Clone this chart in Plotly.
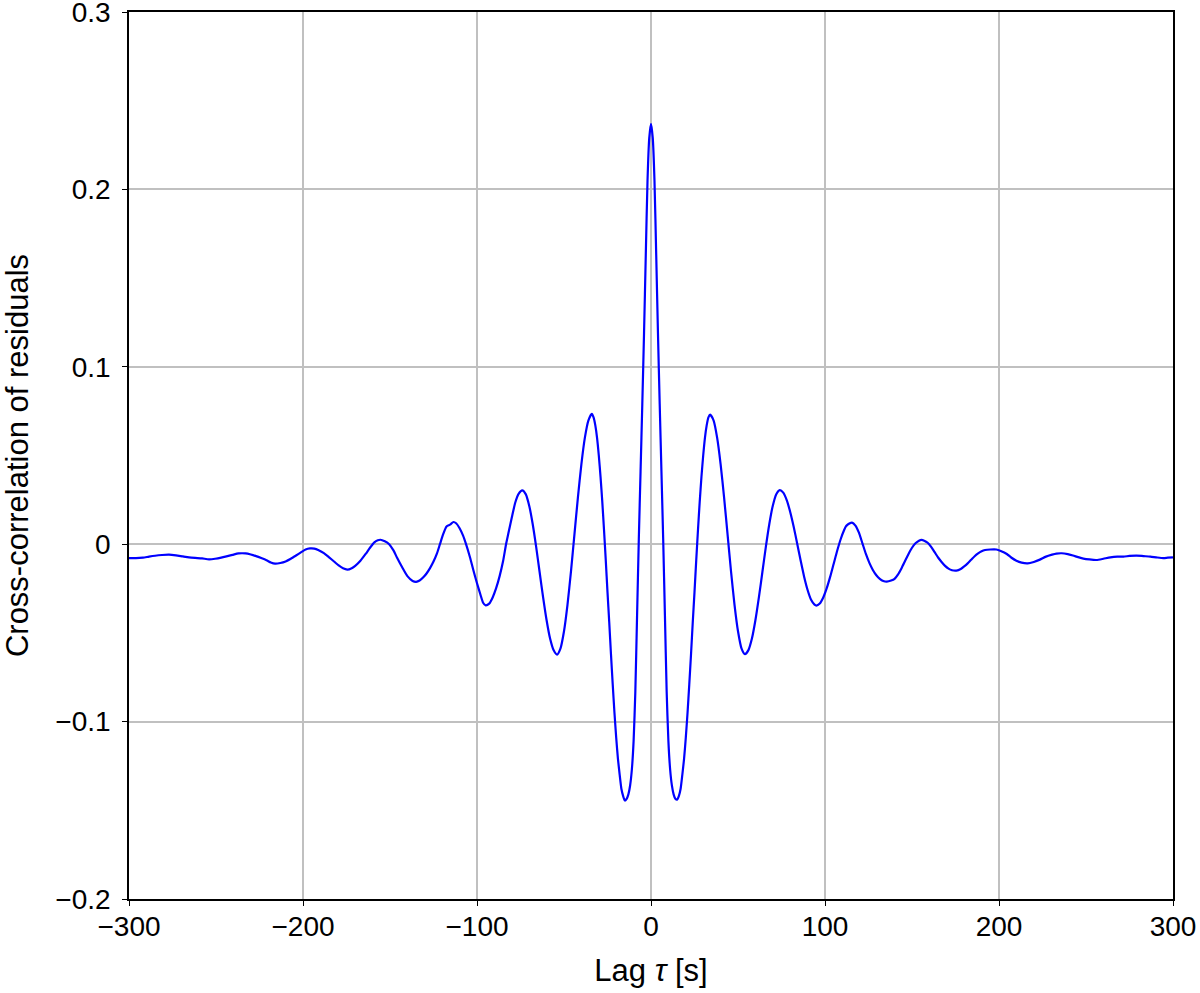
import plotly.graph_objects as go

# Lag values (s) and cross-correlation of residuals
lags_neg = [-300, -296, -292, -288.5, -285, -281, -277, -273, -269, -265.5, -262, -258, -254, -250.5,
            -247, -244, -240.5, -237, -233, -230, -227, -224, -221, -218.5, -216, -213, -210, -207,
            -204, -201, -198.5, -196, -193.5, -191, -188, -185, -182, -179.5, -177, -174.5, -172, -170,
            -167, -164, -161.5, -159, -157, -155.5, -153, -150.5, -148, -146, -143, -140, -137, -135,
            -133, -131, -129, -127, -125, -123, -121.3, -119.5, -117.5, -115.5, -113.5, -112, -110, -108,
            -106.3, -104, -102, -100, -98, -96.5, -95, -93, -91, -89, -87, -85, -83.3, -82, -80, -78,
            -76, -74, -72, -70, -68, -66, -64, -62, -60, -58, -56, -54, -52, -50, -48, -46, -44, -42,
            -40, -38, -36, -34, -33, -32, -31, -30, -29, -28, -27, -26, -25, -24, -23, -22, -21, -20,
            -19, -18, -17, -16, -15, -14, -13, -12, -11, -10, -9, -8, -7, -6, -5, -4, -3, -2, -1]
xcorr_neg = [-0.0078, -0.0079, -0.0076, -0.0070, -0.0065, -0.0061, -0.0059, -0.0063, -0.0069, -0.0074,
             -0.0077, -0.0080, -0.0085, -0.0082, -0.0076, -0.0069, -0.0060, -0.0052, -0.0052, -0.0058,
             -0.0067, -0.0078, -0.0090, -0.0103, -0.0110, -0.0106, -0.0097, -0.0082, -0.0064, -0.0045,
             -0.0030, -0.0024, -0.0025, -0.0034, -0.0050, -0.0074, -0.0099, -0.0120, -0.0136, -0.0143,
             -0.0135, -0.0122, -0.0093, -0.0055, -0.0020, 0.0010, 0.0022, 0.0025, 0.0016, 0.0000,
             -0.0035, -0.0075, -0.0130, -0.0180, -0.0207, -0.0212, -0.0205, -0.0188, -0.0165, -0.0135,
             -0.0098, -0.0052, 0.0000, 0.0055, 0.0100, 0.0110, 0.0125, 0.0118, 0.0090, 0.0048,
             0.0000, -0.0075, -0.0150, -0.0220, -0.0285, -0.0330, -0.0345, -0.0335, -0.0300, -0.0248,
             -0.0180, -0.0095, 0.0000, 0.0060, 0.0150, 0.0235, 0.0285, 0.0303, 0.0282, 0.0217,
             0.0114, -0.0015, -0.0158, -0.0300, -0.0429, -0.0532, -0.0597, -0.0622, -0.0587, -0.0491,
             -0.0342, -0.0154, 0.0055, 0.0264, 0.0452, 0.0601, 0.0697, 0.0735, 0.0715, 0.067,
             0.060, 0.050, 0.038, 0.024, 0.008, -0.009, -0.027, -0.044, -0.062, -0.079,
             -0.095, -0.109, -0.121, -0.130, -0.138, -0.142, -0.1445, -0.1435, -0.141, -0.136,
             -0.127, -0.111, -0.083, -0.040, 0.003, 0.041, 0.079, 0.119, 0.163, 0.205, 0.229]

lags_pos = [0, 1, 2, 3, 4, 5, 6, 7, 8, 9, 10, 11, 12, 13, 14, 15, 16, 17, 18, 19, 20, 21, 22, 23, 24,
            25, 26, 27, 28, 29, 30, 31, 32, 33, 34, 36, 38, 40, 42, 44, 46, 48, 50, 52, 54, 56, 58, 60,
            62, 64, 66, 68, 70, 72, 74, 76, 78, 80, 82, 84, 86, 88, 90, 92, 94, 95, 97, 99, 101, 103,
            105, 107, 109, 111, 112, 113, 114, 115.5, 117.5, 119.5, 121.5, 123.5, 125.5, 127.5, 129.5,
            131.5, 133.5, 135.5, 138, 140, 142, 144, 146, 148, 150, 152, 154, 155.5, 157, 159, 161, 163,
            165, 167, 169, 171, 173, 175.5, 178, 180, 182, 184, 186, 188, 190, 192, 195, 198.5, 201,
            204.5, 207, 210, 213, 216.5, 220, 223.5, 227, 230.5, 233, 236, 239.5, 242.5, 245.5, 248.5,
            252, 256, 260, 264, 268, 271.5, 275, 279, 283, 287, 291, 294.5, 297, 300]
xcorr_pos = [0.237, 0.229, 0.205, 0.163, 0.119, 0.079, 0.041, 0.003, -0.040, -0.083,
             -0.111, -0.127, -0.136, -0.141, -0.1435, -0.144, -0.142, -0.138, -0.130, -0.121,
             -0.109, -0.095, -0.079, -0.062, -0.044, -0.027, -0.009, 0.008, 0.024, 0.038,
             0.050, 0.060, 0.067, 0.0715, 0.073, 0.0697, 0.0601, 0.0452, 0.0264, 0.0055,
             -0.0154, -0.0342, -0.0491, -0.0587, -0.0620, -0.0597, -0.0532, -0.0429, -0.0300, -0.0158,
             -0.0015, 0.0114, 0.0217, 0.0282, 0.0305, 0.0291, 0.0249, 0.0182, 0.0099, 0.0004,
             -0.0092, -0.0183, -0.0258, -0.0313, -0.0341, -0.0346, -0.0334, -0.0300, -0.0248, -0.0183,
             -0.0110, -0.0037, 0.0028, 0.0080, 0.0100, 0.0110, 0.0117, 0.0122, 0.0105, 0.0065,
             0.0005, -0.0055, -0.0105, -0.0145, -0.0175, -0.0195, -0.0207, -0.0211, -0.0205, -0.0195,
             -0.0170, -0.0135, -0.0095, -0.0055, -0.0020, 0.0005, 0.0020, 0.0024, 0.0020, 0.0008,
             -0.0015, -0.0045, -0.0075, -0.0100, -0.0122, -0.0138, -0.0147, -0.0149, -0.0140, -0.0125,
             -0.0108, -0.0088, -0.0068, -0.0052, -0.0040, -0.0033, -0.0030, -0.0030, -0.0038, -0.0055,
             -0.0075, -0.0093, -0.0104, -0.0108, -0.0100, -0.0087, -0.0070, -0.0059, -0.0053, -0.0051,
             -0.0056, -0.0064, -0.0073, -0.0081, -0.0086, -0.0089, -0.0082, -0.0074, -0.0070, -0.0070,
             -0.0066, -0.0064, -0.0067, -0.0070, -0.0075, -0.0078, -0.0076, -0.0074]

x_tickvals = [-300, -200, -100, 0, 100, 200, 300]
x_ticktext = ["\u2212300", "\u2212200", "\u2212100", "0", "100", "200", "300"]
y_tickvals = [-0.2, -0.1, 0, 0.1, 0.2, 0.3]
y_ticktext = ["\u22120.2", "\u22120.1", "0", "0.1", "0.2", "0.3"]

x_title = "Lag <i>\u03c4</i> [s]"
y_title = "Cross-correlation of residuals"

FONT = "Liberation Sans"
FS = 28
FS_TITLE = 31
GRID = "#c0c0c0"

lags = lags_neg + lags_pos
xcorr = xcorr_neg + xcorr_pos

fig = go.Figure()
fig.add_trace(go.Scatter(x=lags, y=xcorr, mode="lines",
                         line=dict(color="#0000ff", width=2.2, shape="spline", smoothing=0.6),
                         showlegend=False, hoverinfo="skip"))

common = dict(showgrid=True, gridcolor=GRID, gridwidth=1.6, zeroline=False,
              showline=True, linecolor="black", linewidth=1.6, mirror=True,
              ticks="outside", ticklen=5, tickwidth=1.4, tickcolor="black",
              ticklabeloverflow="allow",
              tickfont=dict(family=FONT, size=FS, color="black"))

fig.update_layout(
    width=1200, height=993,
    margin=dict(l=129, r=27, t=12, b=94, autoexpand=False),
    paper_bgcolor="white", plot_bgcolor="white",
    hovermode=False,
    font=dict(family=FONT, size=FS, color="black"),
    xaxis=dict(range=[-300, 300], tickmode="array", tickvals=x_tickvals, ticktext=x_ticktext,
               title=dict(text=x_title, font=dict(family=FONT, size=FS_TITLE, color="black"), standoff=18),
               ticklabelstandoff=-3, **common),
    yaxis=dict(range=[-0.2, 0.3], tickmode="array", tickvals=y_tickvals, ticktext=y_ticktext,
               title=dict(text=y_title, font=dict(family=FONT, size=FS_TITLE, color="black"), standoff=22),
               ticklabelstandoff=6, **common),
    xaxis2=dict(overlaying="x", anchor="y", side="bottom", range=[-300, 300], tickmode="array",
                tickvals=x_tickvals, ticks="inside", ticklen=5, tickwidth=1.4, tickcolor="black",
                showticklabels=False, showgrid=False, zeroline=False, showline=False),
    yaxis2=dict(overlaying="y", anchor="x", side="left", range=[-0.2, 0.3], tickmode="array",
                tickvals=y_tickvals, ticks="inside", ticklen=5, tickwidth=1.4, tickcolor="black",
                showticklabels=False, showgrid=False, zeroline=False, showline=False),
)

fig.write_html("out.html", config={"displayModeBar": False},
               post_script="document.body.style.margin='0';document.body.style.overflow='hidden';")
